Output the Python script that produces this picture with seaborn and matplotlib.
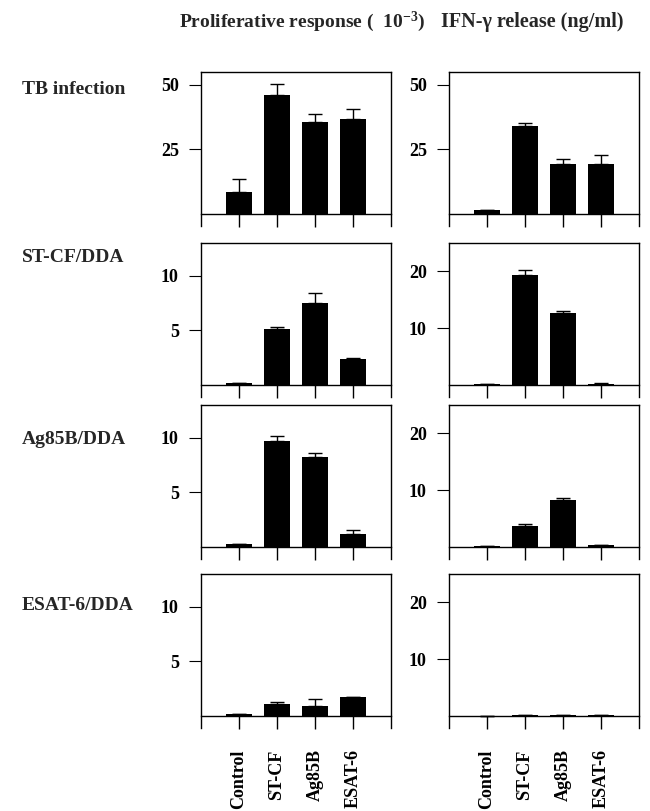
import matplotlib
matplotlib.use("Agg")
import matplotlib.pyplot as plt
import seaborn as sns

categories = ["Control", "ST-CF", "Ag85B", "ESAT-6"]
row_names = ["TB infection", "ST-CF/DDA", "Ag85B/DDA", "ESAT-6/DDA"]

# proliferative response (x10^-3), mean and upper error
prolif_tb = [8.4, 46.1, 35.6, 36.9]
prolif_tb_err = [5.1, 4.1, 3.1, 3.7]
prolif_stcf = [0.18, 5.1, 7.55, 2.4]
prolif_stcf_err = [0.0, 0.25, 0.9, 0.05]
prolif_ag85b = [0.27, 9.7, 8.25, 1.2]
prolif_ag85b_err = [0.0, 0.45, 0.35, 0.4]
prolif_esat6 = [0.18, 1.1, 0.95, 1.7]
prolif_esat6_err = [0.0, 0.2, 0.6, 0.05]

# IFN-gamma release (ng/ml)
ifn_tb = [1.5, 34.2, 19.5, 19.5]
ifn_tb_err = [0.0, 1.1, 1.8, 3.3]
ifn_stcf = [0.15, 19.35, 12.6, 0.25]
ifn_stcf_err = [0.0, 0.9, 0.5, 0.1]
ifn_ag85b = [0.2, 3.7, 8.25, 0.3]
ifn_ag85b_err = [0.0, 0.3, 0.3, 0.1]
ifn_esat6 = [0.05, 0.15, 0.15, 0.15]
ifn_esat6_err = [0.0, 0.0, 0.0, 0.0]

prolif_rows = [(prolif_tb, prolif_tb_err), (prolif_stcf, prolif_stcf_err),
               (prolif_ag85b, prolif_ag85b_err), (prolif_esat6, prolif_esat6_err)]
ifn_rows = [(ifn_tb, ifn_tb_err), (ifn_stcf, ifn_stcf_err),
            (ifn_ag85b, ifn_ag85b_err), (ifn_esat6, ifn_esat6_err)]

prolif_ymax = [55, 13, 13, 13]
ifn_ymax = [55, 25, 25, 25]
prolif_ticks = [[25, 50], [5, 10], [5, 10], [5, 10]]
ifn_ticks = [[25, 50], [10, 20], [10, 20], [10, 20]]

sns.set_style("ticks")
plt.rcParams["font.family"] = ["Liberation Serif", "DejaVu Serif"]
plt.rcParams["font.weight"] = "bold"
plt.rcParams["mathtext.fontset"] = "custom"
plt.rcParams["mathtext.rm"] = "Liberation Serif:bold"
plt.rcParams["mathtext.bf"] = "Liberation Serif:bold"
plt.rcParams["mathtext.it"] = "Liberation Serif:bold"

W, H = 650, 811
fig = plt.figure(figsize=(W / 100, H / 100), dpi=100)

row_tops = [72, 243, 405, 574]
row_label_y = [90, 258, 439, 606]
box_h, base_off = 154, 142
col_left = [201, 449]
col_w = 190


def draw_panel(ax, means, errs, ymax, ticks, show_labels):
    sns.barplot(x=categories, y=means, order=categories, color="black",
                width=0.68, errorbar=None, linewidth=0, saturation=1, ax=ax)
    ax.errorbar(x=range(len(categories)), y=means, yerr=[[0] * len(errs), errs],
                fmt="none", ecolor="black", elinewidth=1, capsize=4.7, capthick=1)
    ax.set_xlim(-1, 4)
    ax.set_ylim(-ymax * (box_h - base_off) / base_off, ymax)
    ax.spines["bottom"].set_position(("data", 0))
    for s in ax.spines.values():
        s.set_linewidth(1)
        s.set_color("black")
    ax.set_yticks(ticks)
    ax.set_yticklabels([str(t) for t in ticks])
    ax.tick_params(axis="y", direction="out", length=9, width=0.8, pad=7,
                   labelsize=13, colors="black")
    ax.tick_params(axis="x", direction="out", length=9, width=1, pad=15,
                   labelsize=13, labelbottom=show_labels, colors="black")
    if show_labels:
        ax.set_xticklabels(categories, rotation=90, fontweight="bold")
    for lab in ax.get_yticklabels():
        lab.set_fontweight("bold")
    ax.set_xlabel("")
    ax.set_ylabel("")


for i in range(4):
    bottom = 1 - (row_tops[i] + box_h) / H
    h = box_h / H
    axl = fig.add_axes([col_left[0] / W, bottom, col_w / W, h])
    axr = fig.add_axes([col_left[1] / W, bottom, col_w / W, h])
    draw_panel(axl, prolif_rows[i][0], prolif_rows[i][1], prolif_ymax[i],
               prolif_ticks[i], i == 3)
    draw_panel(axr, ifn_rows[i][0], ifn_rows[i][1], ifn_ymax[i],
               ifn_ticks[i], i == 3)
    fig.text(22 / W, 1 - row_label_y[i] / H, row_names[i], fontsize=14,
             fontweight="bold", ha="left", va="center")

fig.text(179 / W, 1 - 22 / H, r"Proliferative response (  $10^{-3}$)",
         fontsize=14, fontweight="bold", ha="left", va="center")
fig.text(441 / W, 1 - 22 / H, "IFN-γ release (ng/ml)",
         fontsize=14.5, fontweight="bold", ha="left", va="center")

fig.savefig("out.png", dpi=100, facecolor="white")
